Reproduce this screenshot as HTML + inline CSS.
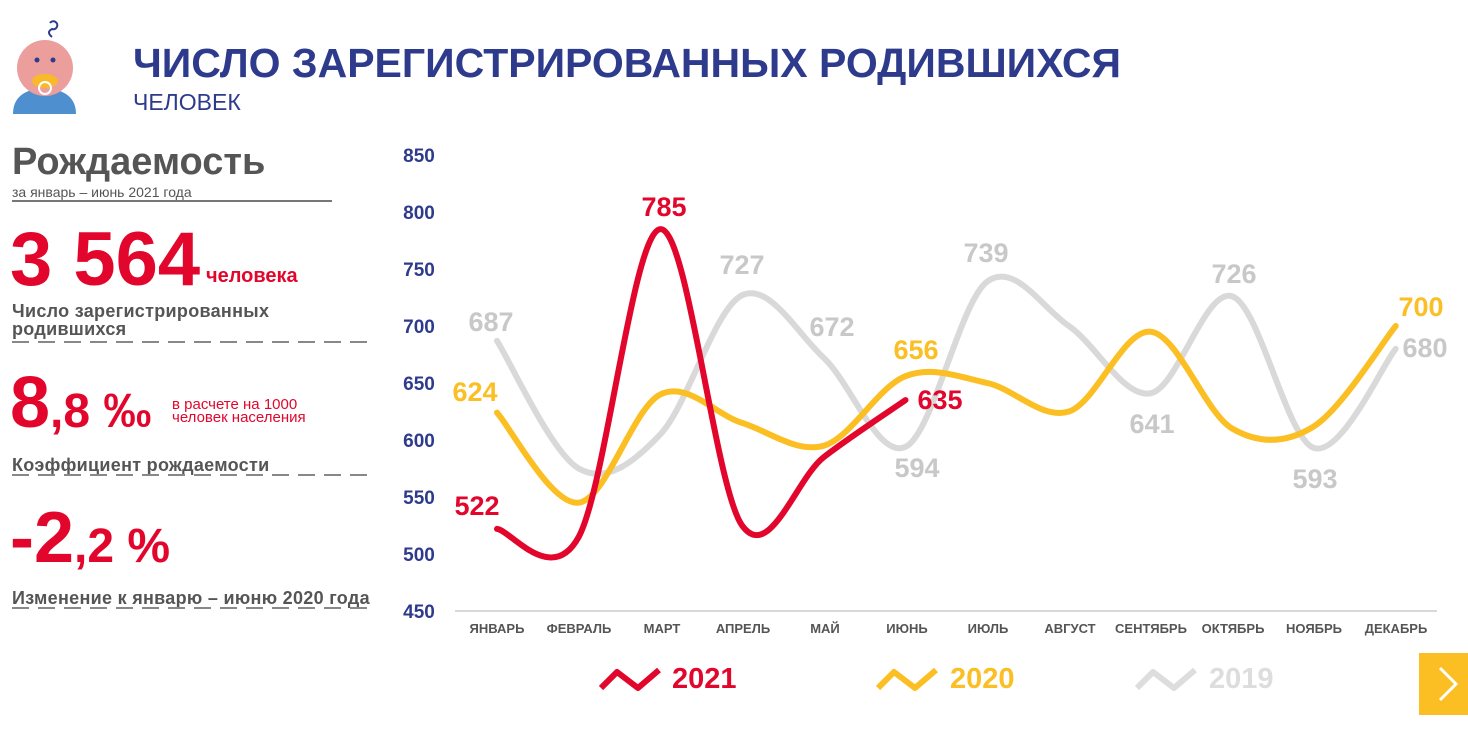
<!DOCTYPE html>
<html><head><meta charset="utf-8"><style>
body{margin:0;width:1468px;height:733px;background:#fff;font-family:"Liberation Sans",sans-serif;position:relative;overflow:hidden}
.a{position:absolute;white-space:nowrap}
.dash{position:absolute;height:2px;background:repeating-linear-gradient(90deg,#888 0 17px,transparent 17px 26px)}
</style></head><body>
<svg class="a" style="left:10px;top:18px" width="70" height="98">
<path d="M40 5 a4 4 0 1 1 2 6 q-6 3 0 8" fill="none" stroke="#2e3b8c" stroke-width="2"/>
<path d="M3 96 Q3 72 34 70 Q66 72 66 96Z" fill="#4e90cf"/>
<circle cx="35" cy="50" r="28" fill="#ec9e9c"/>
<circle cx="27" cy="42" r="2.5" fill="#2e3b8c"/><circle cx="43" cy="42" r="2.5" fill="#2e3b8c"/>
<ellipse cx="35" cy="63" rx="13" ry="7" fill="#f8b92a"/>
<circle cx="35" cy="70" r="6" fill="none" stroke="#fff" stroke-width="2"/>
</svg>
<div class="a" style="left:133px;top:40px;font-size:41px;font-weight:bold;color:#2e3b8c">ЧИСЛО ЗАРЕГИСТРИРОВАННЫХ РОДИВШИХСЯ</div>
<div class="a" style="left:133px;top:89px;font-size:23px;color:#2e3b8c">ЧЕЛОВЕК</div>
<div class="a" style="left:12px;top:141px;font-size:38px;font-weight:bold;color:#555">Рождаемость</div>
<div class="a" style="left:12px;top:184px;font-size:14px;color:#555">за январь – июнь 2021 года</div>
<div class="a" style="left:12px;top:200px;width:320px;height:2px;background:#777"></div>
<div class="a" style="left:10px;top:216px;font-size:76px;font-weight:bold;color:#e2062c;letter-spacing:0px">3 564</div>
<div class="a" style="left:206px;top:265px;font-size:20px;font-weight:bold;color:#e2062c">человека</div>
<div class="a" style="left:12px;top:302px;font-size:18px;font-weight:bold;color:#555;line-height:18px;letter-spacing:0.3px">Число зарегистрированных<br>родившихся</div>
<div class="dash" style="left:12px;top:341px;width:360px"></div>
<div class="a" style="left:10px;top:362px;font-size:72px;font-weight:bold;color:#e2062c">8<span style="font-size:48px">,8 ‰</span></div>
<div class="a" style="left:172px;top:398px;font-size:15px;color:#e2062c;line-height:13px">в расчете на 1000<br>человек населения</div>
<div class="a" style="left:12px;top:455px;font-size:18px;font-weight:bold;color:#555;letter-spacing:0.3px">Коэффициент рождаемости</div>
<div class="dash" style="left:12px;top:474px;width:360px"></div>
<div class="a" style="left:10px;top:497px;font-size:72px;font-weight:bold;color:#e2062c">-2<span style="font-size:48px">,2 %</span></div>
<div class="a" style="left:12px;top:588px;font-size:18px;font-weight:bold;color:#555;letter-spacing:0.3px">Изменение к январю – июню 2020 года</div>
<div class="dash" style="left:12px;top:607px;width:360px"></div>

<svg class="a" style="left:0;top:0" width="1468" height="733" id="ch">
<g font-family="Liberation Sans" font-weight="bold" font-size="19" fill="#2e3b8c" text-anchor="middle">
<text x="419" y="162">850</text><text x="419" y="219">800</text><text x="419" y="276">750</text><text x="419" y="333">700</text><text x="419" y="390">650</text><text x="419" y="447">600</text><text x="419" y="504">550</text><text x="419" y="561">500</text><text x="419" y="618">450</text>
</g>
<line x1="455" y1="611" x2="1437" y2="611" stroke="#ccc" stroke-width="1.5"/>
<g font-family="Liberation Sans" font-weight="bold" font-size="13" fill="#555" text-anchor="middle">
<text x="497" y="633">ЯНВАРЬ</text><text x="579" y="633">ФЕВРАЛЬ</text><text x="662" y="633">МАРТ</text><text x="743" y="633">АПРЕЛЬ</text><text x="825" y="633">МАЙ</text><text x="907" y="633">ИЮНЬ</text><text x="988" y="633">ИЮЛЬ</text><text x="1070" y="633">АВГУСТ</text><text x="1151" y="633">СЕНТЯБРЬ</text><text x="1233" y="633">ОКТЯБРЬ</text><text x="1314" y="633">НОЯБРЬ</text><text x="1396" y="633">ДЕКАБРЬ</text>
</g>
<path id="p19" fill="none" stroke="#d9d9d9" stroke-width="6" stroke-linecap="round"/>
<path id="p20" fill="none" stroke="#fbbf24" stroke-width="6" stroke-linecap="round"/>
<path id="p21" fill="none" stroke="#e2062c" stroke-width="6" stroke-linecap="round"/>
<g font-family="Liberation Sans" font-weight="bold" font-size="27" text-anchor="middle">
<g fill="#c8c8c8"><text x="491" y="331">687</text><text x="742" y="274">727</text><text x="832" y="336">672</text><text x="917" y="477">594</text><text x="986" y="262">739</text><text x="1152" y="433">641</text><text x="1234" y="283">726</text><text x="1315" y="488">593</text><text x="1425" y="357">680</text></g>
<g fill="#fbbf24"><text x="475" y="401">624</text><text x="916" y="359">656</text><text x="1421" y="316">700</text></g>
<g fill="#e2062c"><text x="477" y="515">522</text><text x="664" y="216">785</text><text x="940" y="409">635</text></g>
</g>
<g stroke-width="6" fill="none" stroke-linejoin="round">
<path d="M601 688 L617 672 L638 688 L659 670" stroke="#e2062c"/>
<path d="M878 688 L894 672 L915 688 L936 670" stroke="#fbbf24"/>
<path d="M1137 688 L1153 672 L1174 688 L1195 670" stroke="#ddd"/>
</g>
<g font-family="Liberation Sans" font-weight="bold" font-size="29">
<text x="672" y="688" fill="#e2062c">2021</text><text x="950" y="688" fill="#fbbf24">2020</text><text x="1209" y="688" fill="#ddd">2019</text>
</g>
<rect x="1419" y="653" width="49" height="62" fill="#fbbf24"/>
<path d="M1440 668 L1456 684 L1440 700" stroke="#fff" stroke-width="3" fill="none"/>
</svg>
<script>
const X=i=>497+i*81.7, Y=v=>611-(v-450)*1.14;
function path(d){const p=d.map((v,i)=>[X(i),Y(v)]);let s=`M${p[0][0]} ${p[0][1]}`;
for(let i=0;i<p.length-1;i++){const a=p[i-1]||p[i],b=p[i],c=p[i+1],e=p[i+2]||c;
s+=` C${b[0]+(c[0]-a[0])/6} ${b[1]+(c[1]-a[1])/6} ${c[0]-(e[0]-b[0])/6} ${c[1]-(e[1]-b[1])/6} ${c[0]} ${c[1]}`;}return s;}
document.getElementById('p19').setAttribute('d',path([687,575,605,727,672,594,739,700,641,726,593,680]));
document.getElementById('p20').setAttribute('d',path([624,545,640,615,595,656,650,625,695,610,612,700]));
document.getElementById('p21').setAttribute('d',path([522,515,785,525,585,635]));
</script>
</body></html>
